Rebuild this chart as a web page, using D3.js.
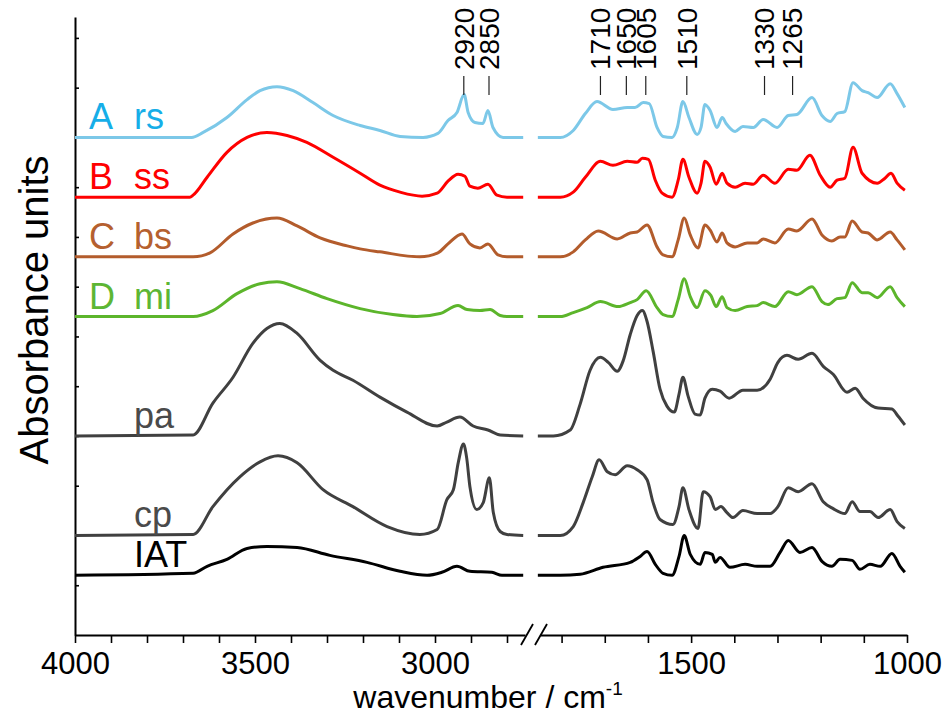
<!DOCTYPE html>
<html>
<head>
<meta charset="utf-8">
<script src="https://cdn.jsdelivr.net/npm/d3@7"></script>
<style>
    body { margin: 0; background: #fff; }
    svg text { font-family: "Liberation Sans", Arial, sans-serif; }
</style>
</head>
<body>
<div id="chart"></div>
<script>

// series names, tags and vertical offsets (absorbance units)
const seriesKeys = ["rs", "ss", "bs", "mi", "pa", "cp", "IAT"];
const seriesTags = ["A", "B", "C", "D", "", "", ""];
const offsets = [5.0, 4.4, 3.8, 3.2, 2.0, 1.0, 0.6];

// spectra: [wavenumber, absorbance above own baseline]
const rs = [[4000,0],[3690,0],[3676,0],[3644,.05],[3578,.20],[3522,.38],[3486,.47],[3439,.51],[3394,.47],[3339,.35],[3283,.22],[3208,.12],[3153,.07],[3097,.01],[3033,0],[2992,.04],[2964,.17],[2939,.25],[2919,.43],[2908,.25],[2889,.15],[2867,.14],[2853,.27],[2839,.10],[2811,0],[2755,0],
    [1855,0],[1803,0],[1773,.07],[1745,.24],[1718,.36],[1681,.28],[1648,.30],[1630,.30],[1611,.35],[1597,.34],[1579,.10],[1565,.01],[1544,0],[1532,.10],[1519,.36],[1505,.20],[1486,.03],[1477,.10],[1468,.33],[1456,.27],[1440,.10],[1428,.20],[1419,.14],[1398,.06],[1380,.11],[1356,.10],[1333,.18],[1301,.10],[1275,.22],[1255,.23],[1220,.40],[1197,.22],[1178,.16],[1162,.24],[1144,.26],[1125,.55],[1104,.47],[1090,.45],[1069,.40],[1039,.54],[1023,.44],[1005,.30]];

const ss = [[4000,0],[3681,0],[3672,.02],[3633,.20],[3578,.45],[3522,.60],[3467,.65],[3411,.62],[3356,.55],[3283,.40],[3208,.24],[3153,.12],[3097,.05],[3036,.01],[2994,.04],[2964,.16],[2936,.23],[2917,.21],[2903,.11],[2881,.09],[2853,.13],[2828,.02],[2800,0],[2755,0],
    [1855,0],[1803,0],[1773,.05],[1745,.20],[1710,.36],[1681,.32],[1648,.36],[1625,.35],[1613,.39],[1599,.38],[1583,.17],[1567,.04],[1544,0],[1530,.17],[1519,.38],[1505,.20],[1486,.04],[1477,.14],[1468,.36],[1456,.30],[1442,.13],[1428,.24],[1417,.14],[1398,.10],[1375,.14],[1356,.13],[1333,.22],[1306,.14],[1275,.28],[1255,.27],[1225,.42],[1201,.22],[1178,.10],[1162,.17],[1144,.19],[1125,.50],[1104,.24],[1069,.14],[1051,.19],[1037,.24],[1023,.14],[1005,.07]];

const bs = [[4000,0],[3672,0],[3625,.04],[3561,.23],[3506,.34],[3439,.39],[3383,.31],[3319,.19],[3244,.11],[3208,.08],[3153,.05],[3042,0],[2992,.04],[2964,.13],[2925,.23],[2903,.13],[2875,.09],[2853,.13],[2825,.02],[2800,0],[2755,0],
    [1855,0],[1803,0],[1773,.05],[1745,.17],[1715,.26],[1671,.18],[1641,.24],[1625,.25],[1602,.32],[1579,.10],[1565,.02],[1544,0],[1530,.17],[1516,.39],[1502,.22],[1484,.09],[1468,.32],[1456,.27],[1440,.15],[1428,.24],[1417,.14],[1398,.10],[1370,.14],[1347,.14],[1333,.18],[1306,.14],[1275,.28],[1255,.26],[1220,.38],[1197,.22],[1174,.16],[1155,.20],[1144,.20],[1127,.36],[1104,.25],[1090,.24],[1069,.17],[1039,.25],[1023,.17],[1005,.07]];

const mi = [[4000,0],[3672,0],[3617,.06],[3550,.23],[3486,.33],[3439,.35],[3375,.28],[3300,.18],[3208,.08],[3117,.02],[3050,0],[2986,.03],[2936,.11],[2911,.07],[2875,.06],[2847,.07],[2819,.01],[2800,0],[2755,0],
    [1855,0],[1803,0],[1773,.04],[1741,.09],[1710,.15],[1669,.10],[1641,.14],[1625,.17],[1604,.26],[1579,.09],[1565,.02],[1544,0],[1530,.17],[1516,.38],[1502,.20],[1486,.09],[1468,.26],[1454,.21],[1442,.10],[1428,.20],[1417,.09],[1398,.06],[1370,.10],[1347,.11],[1333,.14],[1306,.10],[1275,.25],[1255,.22],[1220,.30],[1197,.15],[1183,.12],[1162,.18],[1144,.19],[1127,.34],[1104,.24],[1090,.24],[1069,.19],[1039,.30],[1023,.19],[1005,.10]];

const pa = [[4000,0],[3672,.01],[3617,.33],[3561,.59],[3506,.93],[3467,1.08],[3431,1.13],[3383,1.03],[3319,.76],[3283,.66],[3228,.56],[3153,.39],[3078,.24],[2994,.10],[2967,.14],[2931,.19],[2894,.10],[2853,.06],[2819,.01],[2755,0],
    [1855,0],[1819,0],[1780,.06],[1757,.32],[1734,.66],[1710,.79],[1692,.74],[1671,.65],[1657,.76],[1641,1.02],[1625,1.21],[1613,1.26],[1602,1.15],[1588,.85],[1572,.47],[1556,.30],[1539,.24],[1528,.42],[1519,.59],[1507,.40],[1491,.22],[1479,.21],[1468,.38],[1451,.47],[1433,.45],[1412,.38],[1380,.46],[1347,.46],[1317,.57],[1299,.74],[1278,.81],[1252,.77],[1220,.83],[1194,.70],[1171,.62],[1139,.44],[1120,.48],[1102,.38],[1067,.28],[1035,.27],[1021,.20],[1005,.11]];

const cp = [[4000,0],[3672,.01],[3617,.29],[3542,.59],[3486,.74],[3436,.80],[3383,.73],[3311,.46],[3228,.29],[3133,.09],[3042,.01],[2994,.06],[2967,.36],[2949,.46],[2935,.74],[2921,.92],[2912,.78],[2903,.49],[2884,.26],[2866,.33],[2849,.58],[2838,.23],[2819,.04],[2800,.01],[2755,0],
    [1855,0],[1803,0],[1773,.09],[1750,.33],[1729,.59],[1713,.76],[1694,.64],[1676,.61],[1648,.70],[1625,.66],[1602,.56],[1588,.33],[1572,.16],[1542,.11],[1528,.29],[1519,.48],[1505,.26],[1484,.07],[1472,.44],[1456,.39],[1444,.26],[1431,.29],[1417,.23],[1403,.18],[1380,.25],[1347,.22],[1317,.22],[1299,.29],[1275,.48],[1252,.44],[1220,.52],[1194,.34],[1171,.27],[1144,.22],[1127,.34],[1109,.24],[1086,.24],[1067,.18],[1039,.26],[1023,.14],[1005,.07]];

const iat = [[4000,0],[3672,.02],[3633,.09],[3578,.16],[3522,.27],[3467,.29],[3383,.28],[3292,.20],[3189,.13],[3097,.04],[3022,0],[2981,.03],[2939,.09],[2903,.04],[2842,.03],[2814,0],[2755,0],
    [1855,0],[1803,0],[1757,.01],[1704,.08],[1641,.13],[1618,.19],[1602,.24],[1583,.11],[1565,.02],[1544,0],[1528,.19],[1516,.40],[1502,.21],[1479,.11],[1468,.23],[1451,.21],[1444,.13],[1433,.18],[1410,.08],[1375,.11],[1347,.09],[1317,.09],[1294,.23],[1275,.35],[1248,.23],[1220,.28],[1197,.14],[1174,.09],[1155,.16],[1127,.15],[1109,.06],[1086,.11],[1062,.09],[1035,.22],[1016,.09],[1005,.03]];

// marked band positions
const peakMarks = [2920, 2850, 1710, 1650, 1605, 1510, 1330, 1265];

// x tick labels on each side of the break
const highLabels = [4000, 3500, 3000];
const lowLabels = [1500, 1000];


class SpectraVis {

    constructor(_parentElement, _spectra) {
        this.parentElement = _parentElement;
        this.spectra = _spectra;

        this.initVis();
    }

    initVis() {
        let vis = this;

        vis.width = 944;
        vis.height = 724;

        vis.svg = d3.select("#" + vis.parentElement).append("svg")
            .attr("width", vis.width)
            .attr("height", vis.height);

        vis.lineColors = ["#7cc8e8", "#ff0000", "#b35c2c", "#5cb52b", "#404040", "#404040", "#000000"];
        vis.textColors = ["#16aee8", "#ff0000", "#b5602f", "#5db634", "#4a4a4a", "#4a4a4a", "#000000"];

        // broken x axis: high and low wavenumber parts
        vis.xHigh = d3.scaleLinear().domain([4000, 2750]).range([75, 525]);
        vis.xLow = d3.scaleLinear().domain([1850, 1000]).range([540, 907]);
        vis.y = d3.scaleLinear().domain([0, 6.21]).range([635, 17]);

        // x axis, left part
        vis.svg.append("g")
            .attr("class", "x-axis")
            .attr("transform", "translate(0,635)")
            .call(d3.axisBottom(vis.xHigh)
                .tickValues(d3.range(4000, 2750, -100))
                .tickSize(8).tickSizeOuter(0).tickPadding(9)
                .tickFormat(d => highLabels.includes(d) ? d : ""));

        // x axis, right part
        vis.svg.append("g")
            .attr("class", "x-axis")
            .attr("transform", "translate(0,635)")
            .call(d3.axisBottom(vis.xLow)
                .tickValues(d3.range(1800, 999, -100))
                .tickSize(8).tickSizeOuter(0).tickPadding(9)
                .tickFormat(d => lowLabels.includes(d) ? d : ""));

        // y axis, ticks only
        vis.svg.append("g")
            .attr("class", "y-axis")
            .attr("transform", "translate(75,0)")
            .call(d3.axisRight(vis.y)
                .tickValues(d3.range(0.5, 6.01, 0.5))
                .tickSize(4).tickSizeOuter(0)
                .tickFormat(""));

        vis.svg.selectAll(".x-axis, .y-axis")
            .attr("font-family", null)
            .attr("font-size", null);
        vis.svg.selectAll(".domain").attr("stroke", "#000").attr("stroke-width", 2);
        vis.svg.selectAll(".tick line").attr("stroke", "#000").attr("stroke-width", 1.6);
        vis.svg.selectAll(".x-axis text")
            .attr("fill", "#000")
            .style("font-size", "31px");

        // break marks
        vis.svg.append("g").selectAll("line")
            .data([527, 541])
            .enter().append("line")
            .attr("x1", d => d - 6).attr("y1", 645)
            .attr("x2", d => d + 6).attr("y2", 624)
            .attr("stroke", "#000")
            .attr("stroke-width", 1.8);

        // axis titles
        let xTitle = vis.svg.append("text")
            .attr("x", 488)
            .attr("y", 708)
            .attr("text-anchor", "middle")
            .style("font-size", "32px")
            .text("wavenumber / cm");
        xTitle.append("tspan")
            .attr("dy", -13)
            .style("font-size", "19px")
            .text("-1");

        vis.svg.append("text")
            .attr("transform", "translate(34,310) rotate(-90)")
            .attr("dy", "0.35em")
            .attr("text-anchor", "middle")
            .style("font-size", "40px")
            .text("Absorbance units");

        // line generators
        vis.lineHigh = d3.line()
            .x(d => vis.xHigh(d[0]))
            .y(d => vis.y(d[1]))
            .curve(d3.curveMonotoneX);
        vis.lineLow = d3.line()
            .x(d => vis.xLow(d[0]))
            .y(d => vis.y(d[1]))
            .curve(d3.curveMonotoneX);

        vis.wrangleData();
    }

    wrangleData() {
        let vis = this;

        // split each spectrum at the break and add its offset
        vis.displayData = vis.spectra.map((s, i) => {
            let shifted = s.values.map(d => [d[0], d[1] + offsets[i]]);
            return {
                key: s.key,
                tag: s.tag,
                index: i,
                high: shifted.filter(d => d[0] > 2000),
                low: shifted.filter(d => d[0] < 2000)
            };
        });

        vis.updateVis();
    }

    updateVis() {
        let vis = this;

        let groups = vis.svg.append("g").selectAll(".spectrum")
            .data(vis.displayData)
            .enter().append("g")
            .attr("class", "spectrum");

        groups.append("path")
            .attr("d", d => vis.lineHigh(d.high))
            .attr("fill", "none")
            .attr("stroke", d => vis.lineColors[d.index])
            .attr("stroke-width", 3)
            .attr("stroke-linejoin", "round");

        groups.append("path")
            .attr("d", d => vis.lineLow(d.low))
            .attr("fill", "none")
            .attr("stroke", d => vis.lineColors[d.index])
            .attr("stroke-width", 3)
            .attr("stroke-linejoin", "round");

        // series labels
        groups.append("text")
            .attr("x", 89)
            .attr("y", d => vis.y(offsets[d.index]) - 8)
            .attr("fill", d => vis.textColors[d.index])
            .style("font-size", "36px")
            .text(d => d.tag);

        groups.append("text")
            .attr("x", 134)
            .attr("y", d => vis.y(offsets[d.index]) - 8)
            .attr("fill", d => vis.textColors[d.index])
            .style("font-size", "36px")
            .text(d => d.key);

        // band markers
        let xOf = wn => wn > 2000 ? vis.xHigh(wn) : vis.xLow(wn);
        let marks = vis.svg.append("g").selectAll(".mark")
            .data(peakMarks)
            .enter().append("g")
            .attr("class", "mark");

        marks.append("line")
            .attr("x1", d => xOf(d)).attr("x2", d => xOf(d))
            .attr("y1", 76).attr("y2", 95)
            .attr("stroke", "#222")
            .attr("stroke-width", 1.2);

        marks.append("text")
            .attr("transform", d => `translate(${xOf(d)},70) rotate(-90)`)
            .attr("dy", "0.35em")
            .style("font-size", "28px")
            .text(d => d);
    }
}

let spectra = [rs, ss, bs, mi, pa, cp, iat].map((values, i) => ({
    key: seriesKeys[i],
    tag: seriesTags[i],
    values: values
}));

new SpectraVis("chart", spectra);

</script>
</body>
</html>
